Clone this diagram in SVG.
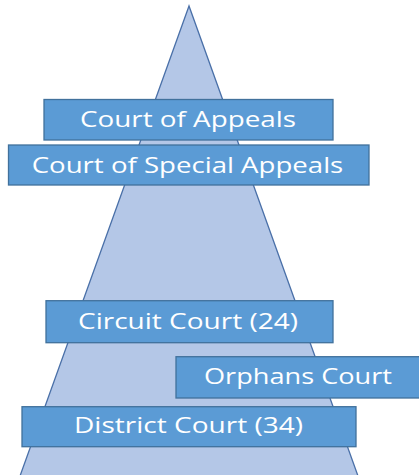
<svg xmlns="http://www.w3.org/2000/svg" width="419" height="475" viewBox="0 0 419 475">
<style>
.box{fill:#5b9bd5;stroke:#41719c;stroke-width:1.3}
.lbl{fill:#ffffff;font-family:"Open Sans","Noto Sans","Liberation Sans",sans-serif;font-size:22px}
</style>
<rect width="419" height="475" fill="#ffffff"/>
<g id="pyramid">
<polygon points="189,6 20,476 358,476" fill="#b4c7e7" stroke="#4a70a8" stroke-width="1.3"/>
</g>
<g id="connectors"></g>
<g id="court-of-appeals">
<rect class="box" x="44" y="99.5" width="289" height="40.5"/>
<text class="lbl" x="80" y="126.7" textLength="216" lengthAdjust="spacingAndGlyphs">Court of Appeals</text>
</g>
<g id="court-of-special-appeals">
<rect class="box" x="8.5" y="145" width="360.5" height="40"/>
<text class="lbl" x="31.7" y="172.7" textLength="311.6" lengthAdjust="spacingAndGlyphs">Court of Special Appeals</text>
</g>
<g id="circuit-court">
<rect class="box" x="46" y="300.7" width="287" height="42"/>
<text class="lbl" x="78" y="329.3" textLength="220" lengthAdjust="spacingAndGlyphs">Circuit Court (24)</text>
</g>
<g id="orphans-court">
<rect class="box" x="176" y="356.7" width="250" height="41.3"/>
<text class="lbl" x="204" y="384.3" textLength="188" lengthAdjust="spacingAndGlyphs">Orphans Court</text>
</g>
<g id="district-court">
<rect class="box" x="22" y="406.7" width="334" height="40"/>
<text class="lbl" x="74" y="433.3" textLength="229" lengthAdjust="spacingAndGlyphs">District Court (34)</text>
</g>
</svg>
